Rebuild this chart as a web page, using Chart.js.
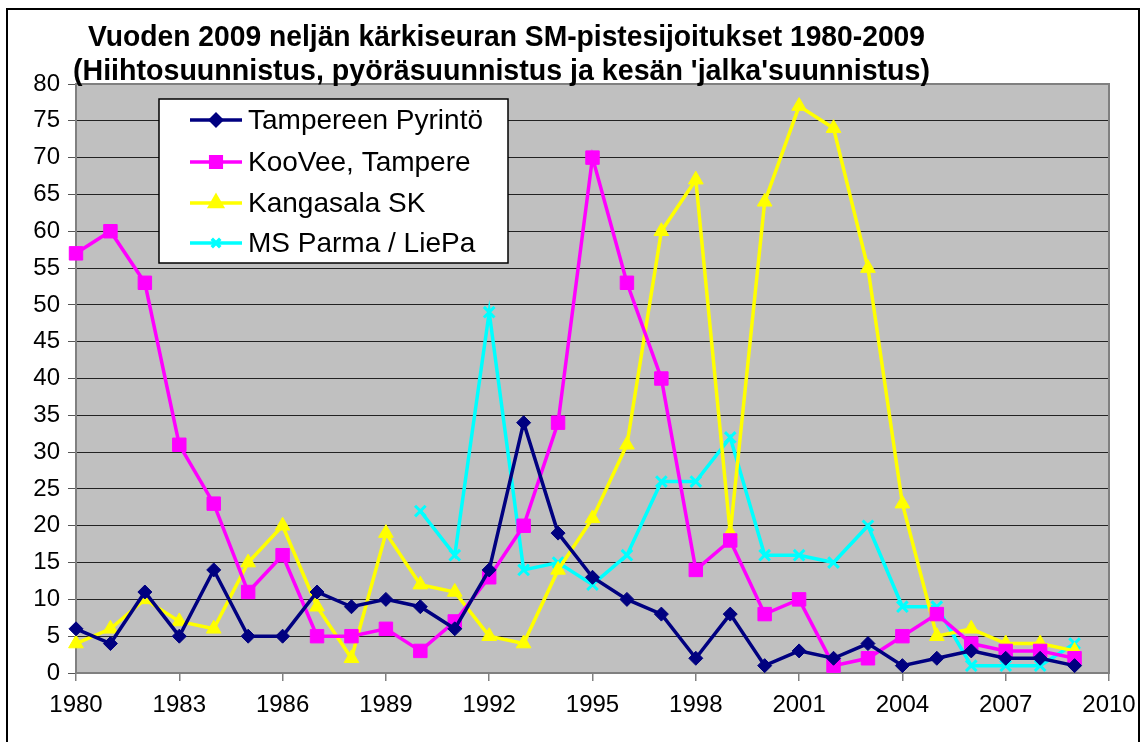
<!DOCTYPE html>
<html><head><meta charset="utf-8">
<script src="https://cdn.jsdelivr.net/npm/chart.js@4"></script>
<style>html,body{margin:0;padding:0;background:#fff}</style>
</head><body>
<canvas id="c" width="1140" height="742" style="width:1140px;height:742px;display:block"></canvas>
<script>
const years = [1980,1981,1982,1983,1984,1985,1986,1987,1988,1989,1990,1991,1992,1993,1994,1995,1996,1997,1998,1999,2000,2001,2002,2003,2004,2005,2006,2007,2008,2009];
const pyrinto   = [6,4,11,5,14,5,5,11,9,10,9,6,14,34,19,13,10,8,2,8,1,3,2,4,1,2,3,2,2,1];
const koovee    = [57,60,53,31,23,11,16,5,5,6,3,7,13,20,34,70,53,40,14,18,8,10,1,2,5,8,4,3,3,2];
const kangasala = [4,6,10,7,6,15,20,9,2,19,12,11,5,4,14,21,31,60,67,19,64,77,74,55,23,5,6,4,4,3];
const parma     = [null,null,null,null,null,null,null,null,null,null,22,16,49,14,15,12,16,26,26,32,16,16,15,20,9,9,1,1,1,4];
const seriesNames = ['Tampereen Pyrintö','KooVee, Tampere','Kangasala SK','MS Parma / LiePa'];
const titleLines = ['Vuoden 2009 neljän kärkiseuran SM-pistesijoitukset 1980-2009',"(Hiihtosuunnistus, pyöräsuunnistus ja kesän 'jalka'suunnistus)"];
const xMin = 1980, xMax = 2010, xStep = 3;
const yMin = 0, yMax = 80, yStep = 5;

function pts(arr){ return years.map((y,i)=>({x:y,y:arr[i]})); }

const styles = [
  {color:'#000080', pointStyle:'rectRot', radius:7, lr:5.5},
  {color:'#FF00FF', pointStyle:'rect', radius:9.5, lr:7.5},
  {color:'#FFFF00', pointStyle:'triangle', radius:8.5, lr:7},
  {color:'#00FFFF', pointStyle:'crossRot', radius:7.5, lr:6}
];
const allData = [pyrinto, koovee, kangasala, parma];

const datasets = allData.map((d,i)=>({
  label: seriesNames[i],
  data: pts(d),
  borderColor: styles[i].color,
  backgroundColor: styles[i].color,
  pointBackgroundColor: styles[i].color,
  pointBorderColor: styles[i].color,
  pointStyle: styles[i].pointStyle,
  pointRadius: styles[i].radius,
  pointBorderWidth: styles[i].pointStyle==='crossRot'?3:1,
  borderWidth: 3.5,
  tension: 0,
  spanGaps: false,
  clip: false
}));

const decor = {
  id:'decor',
  beforeDraw(chart){
    const {ctx, chartArea:a} = chart;
    ctx.save();
    ctx.fillStyle='#fff'; ctx.fillRect(0,0,chart.width,chart.height);
    ctx.fillStyle='#C0C0C0';
    ctx.fillRect(a.left,a.top,a.right-a.left,a.bottom-a.top);
    ctx.restore();
  },
  beforeDatasetsDraw(chart){
    const {ctx, chartArea:a} = chart;
    ctx.save();
    ctx.strokeStyle='#808080'; ctx.lineWidth=2;
    ctx.strokeRect(a.left,a.top,a.right-a.left,a.bottom-a.top);
    ctx.restore();
  },
  afterDraw(chart){
    const ctx = chart.ctx;
    ctx.save();
    ctx.strokeStyle='#000'; ctx.lineWidth=2;
    ctx.strokeRect(7,9,1132,760);
    ctx.fillStyle='#000';
    ctx.textBaseline='alphabetic';
    ctx.font='bold 30px "Liberation Sans", Arial, sans-serif';
    const tl = [{x:88,w:837,y:46},{x:73,w:857,y:80}];
    titleLines.forEach((t,i)=>{
      const m = ctx.measureText(t).width;
      ctx.save();
      ctx.translate(tl[i].x, tl[i].y);
      ctx.scale(tl[i].w/m, 1);
      ctx.fillText(t,0,0);
      ctx.restore();
    });
    const bx=159, by=99, bw=349, bh=164;
    ctx.fillStyle='#fff'; ctx.fillRect(bx,by,bw,bh);
    ctx.strokeStyle='#000'; ctx.lineWidth=1.5; ctx.strokeRect(bx,by,bw,bh);
    const rows=[120,162,203,243];
    ctx.font='28px "Liberation Sans", Arial, sans-serif';
    ctx.textBaseline='middle';
    seriesNames.forEach((n,i)=>{
      const y=rows[i];
      ctx.strokeStyle=styles[i].color; ctx.lineWidth=3.5;
      ctx.beginPath(); ctx.moveTo(190,y); ctx.lineTo(242,y); ctx.stroke();
      ctx.fillStyle=styles[i].color;
      Chart.helpers.drawPoint(ctx,{pointStyle:styles[i].pointStyle,radius:styles[i].lr,rotation:0,borderWidth:styles[i].pointStyle==='crossRot'?2.5:1},216,y);
      ctx.fillStyle='#000';
      ctx.fillText(n,248,y+1);
    });
    ctx.restore();
  }
};

new Chart(document.getElementById('c'),{
  type:'line',
  data:{datasets},
  options:{
    responsive:false,
    animation:false,
    devicePixelRatio:1,
    layout:{padding:{top:84,right:31,left:0,bottom:0}},
    plugins:{legend:{display:false},title:{display:false},tooltip:{enabled:false}},
    scales:{
      x:{
        type:'linear', min:xMin, max:xMax,
        afterFit(s){ s.height=69; s.paddingLeft=0; s.paddingRight=0; },
        afterBuildTicks(s){ const t=[]; for(let v=xMin; v<=xMax; v+=xStep) t.push({value:v}); s.ticks=t; },
        ticks:{stepSize:xStep, color:'#000', font:{family:'"Liberation Sans", Arial, sans-serif', size:24}, padding:10, maxRotation:0, autoSkip:false, callback:v=>String(v)},
        grid:{drawOnChartArea:false, drawTicks:true, tickLength:8, color:'#808080', lineWidth:1.5},
        border:{display:true,color:'#808080',width:2}
      },
      y:{
        min:yMin, max:yMax,
        afterFit(s){ s.width=76; s.paddingTop=0; s.paddingBottom=0; },
        ticks:{stepSize:yStep, color:'#000', font:{family:'"Liberation Sans", Arial, sans-serif', size:24}, padding:8},
        grid:{color:'#222', lineWidth:1, tickLength:8, tickColor:'#555'},
        border:{display:true,color:'#808080',width:2}
      }
    }
  },
  plugins:[decor]
});
</script>
</body></html>
